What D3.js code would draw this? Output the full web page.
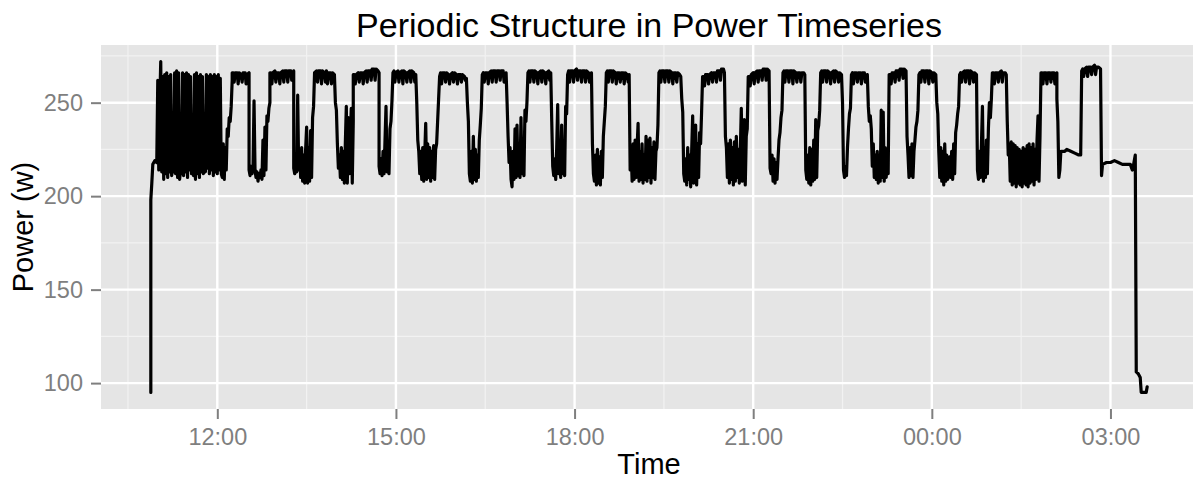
<!DOCTYPE html>
<html>
<head>
<meta charset="utf-8">
<script src="https://cdn.jsdelivr.net/npm/d3@7"></script>
<style>
  body { margin: 0; background: #fff; }
  text { font-family: "Liberation Sans", Arial, Helvetica, sans-serif; }
</style>
</head>
<body>
<div id="chart"></div>
<script>

// Power readings [clock, watts]; clocks before 10:00 belong to the next day
const warmup = [
  ["10:53", 95], ["10:53", 198], ["10:54", 207], ["10:55", 217], ["10:57", 219], ["10:59", 218],
  ["11:00", 262], ["11:01", 214], ["11:02", 250], ["11:03", 272], ["11:04", 213], ["11:05", 264],
  ["11:06", 209], ["11:07", 265], ["11:08", 212], ["11:09", 266], ["11:10", 210], ["11:11", 264],
  ["11:12", 213], ["11:13", 265], ["11:14", 211], ["11:15", 215], ["11:16", 213], ["11:17", 266],
  ["11:18", 212], ["11:19", 267], ["11:20", 210], ["11:21", 266], ["11:22", 209], ["11:23", 214],
  ["11:24", 212], ["11:25", 266], ["11:26", 211], ["11:27", 265], ["11:28", 213], ["11:29", 266],
  ["11:30", 210], ["11:31", 265], ["11:32", 214], ["11:33", 264], ["11:34", 212], ["11:35", 216],
  ["11:36", 211], ["11:37", 265], ["11:38", 209], ["11:39", 266], ["11:40", 212], ["11:41", 264],
  ["11:42", 210], ["11:43", 265], ["11:44", 213], ["11:45", 264], ["11:46", 212], ["11:47", 218],
  ["11:48", 213], ["11:49", 265], ["11:50", 215], ["11:51", 264], ["11:52", 212], ["11:53", 265],
  ["11:54", 214], ["11:55", 264], ["11:56", 211], ["11:57", 265], ["11:58", 213], ["11:59", 264],
  ["12:00", 212], ["12:01", 265], ["12:02", 214], ["12:03", 263], ["12:04", 212],
  ["12:05", 210], ["12:06", 228], ["12:07", 209], ["12:08", 226], ["12:09", 214], ["12:10", 236],
  ["12:11", 232], ["12:12", 242], ["12:13", 240], ["12:14", 248], ["12:15", 262]
];

const afternoon = [
  ["12:15", 266], ["12:16", 266], ["12:17", 261], ["12:18", 266], ["12:20", 266], ["12:21", 260],
  ["12:22", 266], ["12:24", 265], ["12:25", 261], ["12:26", 266], ["12:28", 266], ["12:29", 260],
  ["12:30", 265], ["12:32", 266], ["12:32", 214],
  ["12:33", 211], ["12:34", 216], ["12:35", 212], ["12:36", 215], ["12:37", 251], ["12:38", 214],
  ["12:39", 210], ["12:40", 213], ["12:41", 208], ["12:42", 212], ["12:43", 210], ["12:44", 214],
  ["12:45", 209], ["12:46", 230], ["12:47", 211], ["12:48", 237], ["12:49", 214], ["12:50", 243],
  ["12:51", 240], ["12:52", 247], ["12:53", 250], ["12:53", 266],
  ["12:54", 266], ["12:55", 260], ["12:56", 266], ["12:58", 267], ["12:59", 261], ["13:00", 266],
  ["13:02", 266], ["13:03", 260], ["13:04", 266], ["13:06", 267], ["13:07", 261], ["13:08", 267],
  ["13:10", 267], ["13:11", 261], ["13:12", 267], ["13:14", 267], ["13:15", 262], ["13:17", 267],
  ["13:17", 215],
  ["13:18", 212], ["13:19", 216], ["13:20", 213], ["13:21", 254], ["13:22", 214], ["13:23", 224],
  ["13:24", 210], ["13:25", 226], ["13:26", 208], ["13:27", 222], ["13:28", 207], ["13:29", 225],
  ["13:30", 237], ["13:31", 207], ["13:32", 226], ["13:33", 208], ["13:34", 235], ["13:35", 210],
  ["13:36", 242], ["13:37", 248], ["13:38", 266],
  ["13:40", 267], ["13:41", 261], ["13:42", 267], ["13:44", 267], ["13:45", 260], ["13:46", 267],
  ["13:48", 266], ["13:49", 261], ["13:50", 267], ["13:51", 260], ["13:52", 266], ["13:54", 266],
  ["13:55", 260], ["13:56", 266], ["13:58", 265],
  ["13:59", 250], ["14:00", 246], ["14:01", 228], ["14:02", 215], ["14:03", 222], ["14:04", 210],
  ["14:05", 226], ["14:06", 209], ["14:07", 224], ["14:08", 207], ["14:09", 228], ["14:10", 248],
  ["14:11", 207], ["14:12", 242], ["14:13", 212], ["14:14", 232], ["14:15", 247], ["14:16", 207],
  ["14:17", 240], ["14:17", 265],
  ["14:18", 265], ["14:19", 260], ["14:20", 265], ["14:22", 266], ["14:23", 261], ["14:24", 266],
  ["14:26", 266], ["14:27", 260], ["14:28", 266], ["14:30", 267], ["14:31", 261], ["14:32", 267],
  ["14:34", 267], ["14:35", 262], ["14:36", 268], ["14:38", 268], ["14:39", 262], ["14:40", 268],
  ["14:42", 267], ["14:43", 266],
  ["14:43", 216], ["14:44", 212], ["14:45", 220], ["14:46", 211], ["14:47", 224], ["14:48", 212],
  ["14:49", 230], ["14:50", 248], ["14:51", 213], ["14:52", 228], ["14:53", 212], ["14:54", 236],
  ["14:55", 240], ["14:56", 251], ["14:57", 266],
  ["14:58", 267], ["14:59", 261], ["15:00", 266], ["15:02", 267], ["15:03", 261], ["15:04", 266],
  ["15:06", 267], ["15:07", 260], ["15:08", 267], ["15:10", 266], ["15:11", 261], ["15:12", 266],
  ["15:14", 267], ["15:15", 261], ["15:16", 267], ["15:18", 266], ["15:19", 261], ["15:20", 265],
  ["15:21", 250], ["15:22", 230], ["15:23", 224], ["15:24", 212], ["15:25", 224], ["15:26", 209],
  ["15:27", 226], ["15:28", 208], ["15:29", 222], ["15:30", 239], ["15:31", 209], ["15:32", 228],
  ["15:33", 210], ["15:34", 226], ["15:35", 208], ["15:36", 224], ["15:37", 210], ["15:38", 227],
  ["15:39", 209], ["15:40", 225], ["15:41", 228], ["15:42", 240], ["15:43", 252], ["15:44", 264],
  ["15:45", 266], ["15:46", 260], ["15:47", 266], ["15:49", 266], ["15:50", 261], ["15:51", 266],
  ["15:53", 265], ["15:54", 260], ["15:55", 265], ["15:57", 266], ["15:58", 261], ["15:59", 266],
  ["16:01", 265], ["16:02", 260], ["16:03", 265], ["16:05", 265], ["16:06", 261], ["16:07", 265],
  ["16:09", 264], ["16:10", 262], ["16:11", 263],
  ["16:12", 250], ["16:13", 240], ["16:14", 212], ["16:15", 208], ["16:16", 224], ["16:17", 207],
  ["16:18", 232], ["16:19", 209], ["16:20", 225], ["16:21", 208], ["16:22", 222], ["16:23", 210],
  ["16:24", 230], ["16:25", 238], ["16:26", 247], ["16:27", 265],
  ["16:28", 266], ["16:29", 261], ["16:30", 266], ["16:32", 266], ["16:33", 260], ["16:34", 266],
  ["16:36", 267], ["16:37", 261], ["16:38", 267], ["16:40", 267], ["16:41", 261], ["16:42", 267],
  ["16:44", 267], ["16:45", 262], ["16:46", 267], ["16:48", 267], ["16:49", 261], ["16:51", 266],
  ["16:52", 250], ["16:53", 232], ["16:54", 218], ["16:55", 226], ["16:56", 209], ["16:57", 205],
  ["16:58", 224], ["16:59", 209], ["17:00", 236], ["17:01", 210], ["17:02", 238], ["17:03", 211],
  ["17:04", 222], ["17:05", 210], ["17:06", 242], ["17:07", 212], ["17:08", 226], ["17:09", 211],
  ["17:10", 246], ["17:11", 240], ["17:12", 250], ["17:13", 266]
];

const evening = [
  ["17:14", 267], ["17:15", 261], ["17:16", 267], ["17:18", 267], ["17:19", 261], ["17:20", 267],
  ["17:22", 266], ["17:23", 260], ["17:24", 266], ["17:26", 267], ["17:27", 261], ["17:28", 267],
  ["17:30", 266], ["17:31", 260], ["17:32", 266], ["17:34", 267], ["17:35", 262], ["17:36", 266],
  ["17:37", 240], ["17:38", 216], ["17:39", 211], ["17:40", 220], ["17:41", 209], ["17:42", 226],
  ["17:43", 249], ["17:44", 212], ["17:45", 230], ["17:46", 210], ["17:47", 238], ["17:48", 212],
  ["17:49", 226], ["17:50", 211], ["17:51", 248], ["17:52", 244], ["17:53", 265],
  ["17:54", 267], ["17:55", 261], ["17:56", 267], ["17:58", 267], ["17:59", 261], ["18:00", 267],
  ["18:02", 268], ["18:03", 262], ["18:04", 267], ["18:06", 267], ["18:07", 261], ["18:08", 267],
  ["18:10", 267], ["18:11", 261], ["18:12", 267], ["18:14", 266], ["18:15", 261], ["18:17", 266],
  ["18:18", 228], ["18:19", 212], ["18:20", 208], ["18:21", 222], ["18:22", 206], ["18:23", 225],
  ["18:24", 207], ["18:25", 221], ["18:26", 206], ["18:27", 224], ["18:28", 210], ["18:29", 232],
  ["18:30", 240], ["18:31", 248], ["18:32", 266],
  ["18:33", 267], ["18:34", 261], ["18:35", 267], ["18:37", 267], ["18:38", 261], ["18:39", 267],
  ["18:41", 266], ["18:42", 260], ["18:43", 266], ["18:45", 266], ["18:46", 261], ["18:47", 266],
  ["18:49", 266], ["18:50", 260], ["18:51", 266], ["18:53", 265], ["18:54", 261], ["18:55", 265],
  ["18:56", 214], ["18:57", 226], ["18:58", 208], ["18:59", 228], ["19:00", 209], ["19:01", 230],
  ["19:02", 210], ["19:03", 226], ["19:04", 239], ["19:05", 208], ["19:06", 224], ["19:07", 209],
  ["19:08", 228], ["19:09", 207], ["19:10", 222], ["19:11", 209], ["19:12", 232], ["19:13", 208],
  ["19:14", 230], ["19:15", 210], ["19:16", 231], ["19:17", 207], ["19:18", 226], ["19:19", 210],
  ["19:20", 229], ["19:21", 209], ["19:22", 224], ["19:23", 226], ["19:24", 238], ["19:25", 266],
  ["19:26", 267], ["19:27", 261], ["19:28", 267], ["19:30", 267], ["19:31", 261], ["19:32", 267],
  ["19:34", 267], ["19:35", 261], ["19:36", 267], ["19:38", 266], ["19:39", 260], ["19:40", 266],
  ["19:42", 266], ["19:43", 261], ["19:44", 266], ["19:46", 265], ["19:47", 264],
  ["19:48", 252], ["19:49", 245], ["19:50", 212], ["19:51", 208], ["19:52", 220], ["19:53", 206],
  ["19:54", 226], ["19:55", 209], ["19:56", 222], ["19:57", 205], ["19:58", 224], ["19:59", 243],
  ["20:00", 207], ["20:01", 226], ["20:02", 238], ["20:03", 206], ["20:04", 228], ["20:05", 210],
  ["20:06", 234], ["20:07", 228], ["20:08", 245], ["20:09", 264],
  ["20:10", 264], ["20:11", 259], ["20:12", 265], ["20:14", 265], ["20:15", 260], ["20:16", 265],
  ["20:18", 266], ["20:19", 261], ["20:20", 266], ["20:22", 266], ["20:23", 261], ["20:24", 267],
  ["20:26", 267], ["20:27", 262], ["20:28", 268], ["20:30", 268], ["20:31", 266],
  ["20:32", 232], ["20:33", 226], ["20:34", 210], ["20:35", 228], ["20:36", 207], ["20:37", 230],
  ["20:38", 209], ["20:39", 226], ["20:40", 206], ["20:41", 229], ["20:42", 208], ["20:43", 232],
  ["20:44", 210], ["20:45", 225], ["20:46", 207], ["20:47", 224], ["20:48", 247], ["20:49", 208],
  ["20:50", 226], ["20:51", 241], ["20:52", 206], ["20:53", 232], ["20:54", 236], ["20:55", 264],
  ["20:56", 264], ["20:57", 259], ["20:58", 265], ["21:00", 266], ["21:01", 260], ["21:02", 266],
  ["21:04", 267], ["21:05", 261], ["21:06", 267], ["21:08", 267], ["21:09", 262], ["21:10", 268],
  ["21:12", 268], ["21:13", 262], ["21:14", 268], ["21:16", 267],
  ["21:17", 215], ["21:18", 212], ["21:19", 222], ["21:20", 208], ["21:21", 220], ["21:22", 207],
  ["21:23", 218], ["21:24", 209], ["21:25", 220], ["21:26", 230], ["21:27", 234], ["21:28", 242],
  ["21:29", 246], ["21:30", 266]
];

const night = [
  ["21:31", 267], ["21:32", 261], ["21:33", 267], ["21:35", 267], ["21:36", 261], ["21:37", 267],
  ["21:39", 267], ["21:40", 260], ["21:41", 267], ["21:43", 266], ["21:44", 261], ["21:45", 266],
  ["21:47", 266], ["21:48", 261], ["21:49", 266], ["21:51", 266], ["21:52", 265],
  ["21:53", 214], ["21:54", 209], ["21:55", 222], ["21:56", 207], ["21:57", 226], ["21:58", 206],
  ["21:59", 225], ["22:00", 208], ["22:01", 230], ["22:02", 209], ["22:03", 241], ["22:04", 210],
  ["22:05", 235], ["22:06", 238], ["22:07", 246], ["22:08", 266],
  ["22:09", 267], ["22:10", 261], ["22:11", 267], ["22:13", 267], ["22:14", 261], ["22:15", 267],
  ["22:17", 266], ["22:18", 260], ["22:19", 266], ["22:21", 267], ["22:22", 261], ["22:23", 267],
  ["22:25", 266], ["22:26", 261], ["22:27", 266], ["22:29", 265],
  ["22:30", 250], ["22:31", 214], ["22:32", 210], ["22:33", 216], ["22:34", 211], ["22:35", 226],
  ["22:36", 236], ["22:37", 244], ["22:38", 247], ["22:39", 265],
  ["22:40", 266], ["22:41", 260], ["22:42", 266], ["22:44", 266], ["22:45", 261], ["22:46", 266],
  ["22:48", 266], ["22:49", 260], ["22:50", 266], ["22:52", 266], ["22:53", 261], ["22:55", 265],
  ["22:56", 248], ["22:57", 240], ["22:58", 243], ["22:59", 236], ["23:00", 216], ["23:01", 228],
  ["23:02", 210], ["23:03", 222], ["23:04", 209], ["23:05", 224], ["23:06", 207], ["23:07", 222],
  ["23:08", 208], ["23:09", 246], ["23:10", 210], ["23:11", 245], ["23:12", 208], ["23:13", 226],
  ["23:14", 210], ["23:15", 218], ["23:16", 212], ["23:17", 265],
  ["23:18", 265], ["23:19", 260], ["23:20", 266], ["23:22", 266], ["23:23", 261], ["23:24", 267],
  ["23:26", 267], ["23:27", 262], ["23:28", 268], ["23:30", 268], ["23:31", 263], ["23:32", 268],
  ["23:34", 267],
  ["23:35", 232], ["23:36", 222], ["23:37", 210], ["23:38", 226], ["23:39", 211], ["23:40", 228],
  ["23:41", 210], ["23:42", 224], ["23:43", 230], ["23:44", 237], ["23:45", 240], ["23:46", 246],
  ["23:47", 265],
  ["23:48", 266], ["23:49", 261], ["23:50", 267], ["23:52", 267], ["23:53", 261], ["23:54", 267],
  ["23:56", 267], ["23:57", 260], ["23:58", 267], ["00:00", 266], ["00:01", 261], ["00:02", 266],
  ["00:04", 265],
  ["00:05", 250], ["00:06", 244], ["00:07", 224], ["00:08", 210], ["00:09", 226], ["00:10", 208],
  ["00:11", 224], ["00:12", 206], ["00:13", 228], ["00:14", 208], ["00:15", 222], ["00:16", 209],
  ["00:17", 216], ["00:18", 221], ["00:19", 210], ["00:20", 224], ["00:21", 209], ["00:22", 228],
  ["00:23", 212], ["00:24", 234], ["00:25", 238], ["00:26", 244], ["00:27", 248], ["00:28", 265],
  ["00:29", 266], ["00:30", 261], ["00:31", 266], ["00:33", 267], ["00:34", 261], ["00:35", 267],
  ["00:37", 267], ["00:38", 260], ["00:39", 267], ["00:41", 266], ["00:42", 261], ["00:43", 266],
  ["00:45", 265],
  ["00:46", 214], ["00:47", 209], ["00:48", 224], ["00:49", 210], ["00:50", 228], ["00:51", 248],
  ["00:52", 208], ["00:53", 226], ["00:54", 210], ["00:55", 230], ["00:56", 212], ["00:57", 236],
  ["00:58", 250], ["00:59", 242], ["01:00", 252], ["01:01", 266],
  ["01:02", 266], ["01:03", 260], ["01:04", 266], ["01:06", 266], ["01:07", 261], ["01:08", 266],
  ["01:10", 267], ["01:11", 261], ["01:12", 266], ["01:14", 266], ["01:15", 265]
];

const shutdown = [
  ["01:16", 240], ["01:17", 222], ["01:18", 228], ["01:19", 208], ["01:20", 229], ["01:21", 206],
  ["01:22", 228], ["01:23", 207], ["01:24", 227], ["01:25", 205], ["01:26", 226], ["01:27", 207],
  ["01:28", 225], ["01:29", 206], ["01:30", 224], ["01:31", 205], ["01:32", 226], ["01:33", 207],
  ["01:34", 225], ["01:35", 206], ["01:36", 227], ["01:37", 205], ["01:38", 228], ["01:39", 207],
  ["01:40", 226], ["01:41", 208], ["01:42", 228], ["01:43", 206], ["01:44", 225], ["01:45", 209],
  ["01:46", 230], ["01:47", 243], ["01:48", 208], ["01:49", 232], ["01:50", 266],
  ["01:51", 266], ["01:52", 260], ["01:53", 266], ["01:55", 266], ["01:56", 260], ["01:57", 266],
  ["01:59", 266], ["02:00", 261], ["02:01", 266], ["02:03", 266], ["02:04", 260], ["02:06", 266],
  ["02:06", 252], ["02:07", 240], ["02:08", 210], ["02:09", 214], ["02:10", 224], ["02:14", 224],
  ["02:16", 225], ["02:20", 224], ["02:24", 223], ["02:28", 222], ["02:30", 222],
  ["02:31", 267], ["02:32", 268], ["02:33", 264], ["02:34", 268], ["02:36", 269], ["02:37", 264],
  ["02:38", 269], ["02:40", 269], ["02:41", 265], ["02:42", 269], ["02:44", 270], ["02:45", 265],
  ["02:46", 269], ["02:48", 269], ["02:50", 268],
  ["02:51", 211], ["02:52", 217], ["02:56", 218], ["03:00", 218], ["03:04", 219], ["03:08", 218],
  ["03:12", 217], ["03:16", 217], ["03:20", 217], ["03:22", 214], ["03:23", 216], ["03:25", 222],
  ["03:26", 106], ["03:28", 105], ["03:30", 103], ["03:31", 95], ["03:36", 95], ["03:37", 98]
];

const xTickLabels = ["12:00", "15:00", "18:00", "21:00", "00:00", "03:00"];
const xMinorTicks = ["10:30", "13:30", "16:30", "19:30", "22:30", "01:30"];
const yTicks = [100, 150, 200, 250];
const yMinorTicks = [125, 175, 225, 275];

const width = 1193, height = 480;
const panel = {left: 101, right: 1197, top: 45, bottom: 409};

const parseStamp = d3.timeParse("%Y-%m-%d %H:%M");
function toDate(clock) {
  const h = +clock.slice(0, 2);
  return parseStamp((h < 10 ? "2014-03-02 " : "2014-03-01 ") + clock);
}

const data = [].concat(warmup, afternoon, evening, night, shutdown)
  .map(d => ({time: toDate(d[0]), watts: d[1]}));

const svg = d3.select("#chart")
  .append("svg")
  .attr("width", width)
  .attr("height", height);

// ggplot style 5% padding of the data range
const [t0, t1] = d3.extent(data, d => d.time);
const tPad = (t1 - t0) * 0.05;
const xScale = d3.scaleTime()
  .domain([new Date(+t0 - tPad), new Date(+t1 + tPad)])
  .range([panel.left, panel.right]);

const [w0, w1] = d3.extent(data, d => d.watts);
const wPad = (w1 - w0) * 0.05;
const yScale = d3.scaleLinear()
  .domain([w0 - wPad, w1 + wPad])
  .range([panel.bottom, panel.top]);

// panel background
svg.append("rect")
  .attr("x", panel.left)
  .attr("y", panel.top)
  .attr("width", panel.right - panel.left)
  .attr("height", panel.bottom - panel.top)
  .attr("fill", "#e5e5e5");

// minor grid
svg.append("g").selectAll("line")
  .data(xMinorTicks.map(toDate))
  .enter().append("line")
  .attr("x1", d => xScale(d)).attr("x2", d => xScale(d))
  .attr("y1", panel.top).attr("y2", panel.bottom)
  .attr("stroke", "#f2f2f2").attr("stroke-width", 1.2);

svg.append("g").selectAll("line")
  .data(yMinorTicks)
  .enter().append("line")
  .attr("x1", panel.left).attr("x2", panel.right)
  .attr("y1", d => yScale(d)).attr("y2", d => yScale(d))
  .attr("stroke", "#f2f2f2").attr("stroke-width", 1.2);

// major grid
svg.append("g").selectAll("line")
  .data(xTickLabels.map(toDate))
  .enter().append("line")
  .attr("x1", d => xScale(d)).attr("x2", d => xScale(d))
  .attr("y1", panel.top).attr("y2", panel.bottom)
  .attr("stroke", "#ffffff").attr("stroke-width", 2.4);

svg.append("g").selectAll("line")
  .data(yTicks)
  .enter().append("line")
  .attr("x1", panel.left).attr("x2", panel.right)
  .attr("y1", d => yScale(d)).attr("y2", d => yScale(d))
  .attr("stroke", "#ffffff").attr("stroke-width", 2.4);

// the series
const line = d3.line()
  .x(d => xScale(d.time))
  .y(d => yScale(d.watts));

svg.append("path")
  .datum(data)
  .attr("d", line)
  .attr("fill", "none")
  .attr("stroke", "#000")
  .attr("stroke-width", 3.2)
  .attr("stroke-linejoin", "round")
  .attr("stroke-linecap", "round");

// axes
const xAxis = svg.append("g")
  .attr("transform", `translate(0,${panel.bottom})`)
  .call(d3.axisBottom(xScale)
    .tickValues(xTickLabels.map(toDate))
    .tickFormat(d3.timeFormat("%H:%M"))
    .tickSize(10)
    .tickPadding(9));
xAxis.select(".domain").remove();
xAxis.selectAll(".tick line").attr("stroke", "#7f7f7f").attr("stroke-width", 2);
xAxis.selectAll(".tick text")
  .attr("fill", "#7f7f7f")
  .attr("font-size", "23.5px")
  .attr("font-family", "Liberation Sans, Arial, sans-serif");

const yAxis = svg.append("g")
  .attr("transform", `translate(${panel.left},0)`)
  .call(d3.axisLeft(yScale)
    .tickValues(yTicks)
    .tickSize(10)
    .tickPadding(8));
yAxis.select(".domain").remove();
yAxis.selectAll(".tick line").attr("stroke", "#7f7f7f").attr("stroke-width", 2);
yAxis.selectAll(".tick text")
  .attr("fill", "#7f7f7f")
  .attr("font-size", "23.5px")
  .attr("font-family", "Liberation Sans, Arial, sans-serif");

// titles
const midX = (panel.left + panel.right) / 2;
svg.append("text")
  .attr("x", midX)
  .attr("y", 37)
  .attr("text-anchor", "middle")
  .attr("font-size", "34px")
  .text("Periodic Structure in Power Timeseries");

svg.append("text")
  .attr("x", midX)
  .attr("y", 474)
  .attr("text-anchor", "middle")
  .attr("font-size", "29px")
  .text("Time");

svg.append("text")
  .attr("transform", `translate(33,${(panel.top + panel.bottom) / 2}) rotate(-90)`)
  .attr("text-anchor", "middle")
  .attr("font-size", "29px")
  .text("Power (w)");

</script>
</body>
</html>
